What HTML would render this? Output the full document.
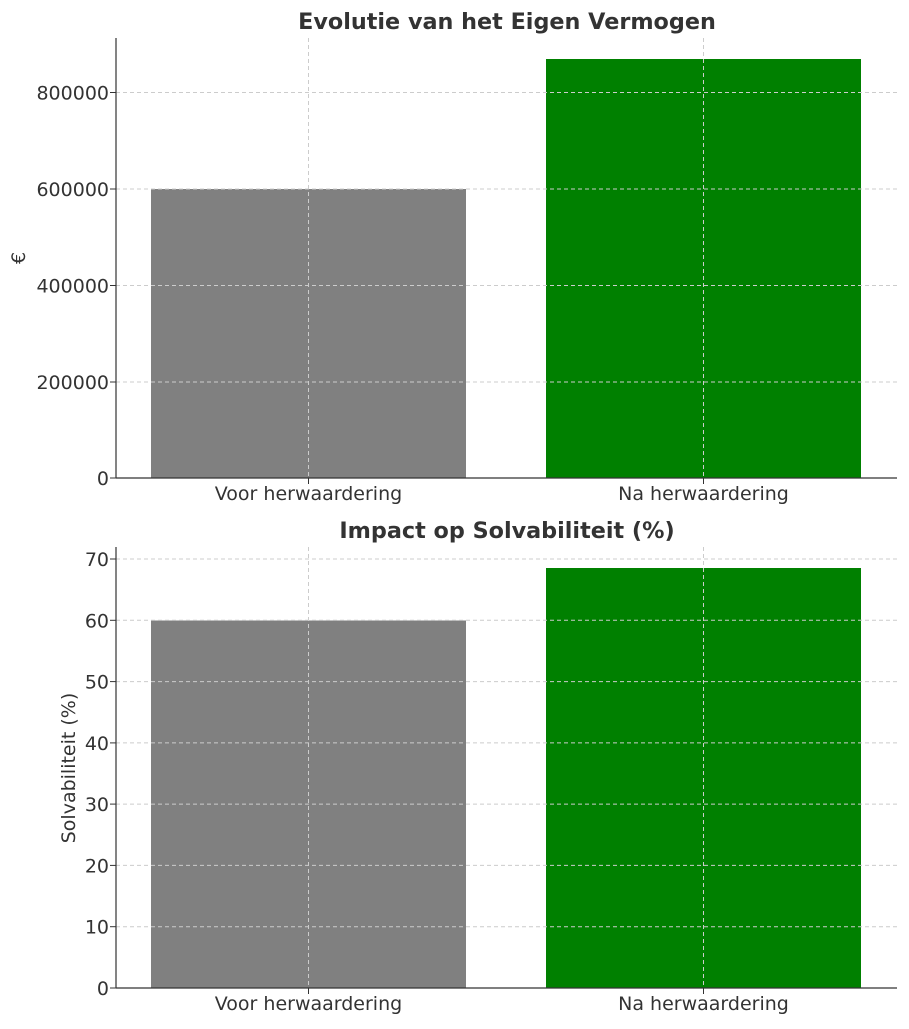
<!DOCTYPE html>
<html><head><meta charset="utf-8"><style>body{margin:0;background:#fff}</style></head><body>
<svg width="909" height="1024" xmlns="http://www.w3.org/2000/svg" font-family="DejaVu Sans, Liberation Sans, sans-serif" fill="#333">
<rect width="909" height="1024" fill="#fff"/>
<g>
<rect x="151" y="189" width="315" height="289" fill="#808080"/>
<rect x="546" y="59" width="315" height="419" fill="#008000"/>
<g stroke="#ccc" stroke-dasharray="4,3" stroke-width="1">
<line x1="116" x2="897" y1="382" y2="382"/><line x1="116" x2="897" y1="285.5" y2="285.5"/>
<line x1="116" x2="897" y1="189" y2="189"/><line x1="116" x2="897" y1="92.5" y2="92.5"/>
<line x1="308.5" x2="308.5" y1="38" y2="478"/><line x1="703.5" x2="703.5" y1="38" y2="478"/>
</g>
<line x1="116" x2="116" y1="38" y2="478" stroke="#333" stroke-width="1.2"/>
<line x1="116" x2="897" y1="478" y2="478" stroke="#333" stroke-width="1.2"/>
<g stroke="#333"><line x1="110" x2="116" y1="478" y2="478"/><line x1="110" x2="116" y1="382" y2="382"/><line x1="110" x2="116" y1="285.5" y2="285.5"/><line x1="110" x2="116" y1="189" y2="189"/><line x1="110" x2="116" y1="92.5" y2="92.5"/><line x1="308.5" x2="308.5" y1="478" y2="484"/><line x1="703.5" x2="703.5" y1="478" y2="484"/></g>
<g font-size="19" text-anchor="end"><text x="109" y="485">0</text><text x="109" y="389">200000</text><text x="109" y="292.5">400000</text><text x="109" y="196">600000</text><text x="109" y="99.5">800000</text></g>
<g font-size="19" text-anchor="middle"><text x="308.5" y="500">Voor herwaardering</text><text x="703.5" y="500">Na herwaardering</text></g>
<text x="25" y="258" font-size="19" text-anchor="middle" transform="rotate(-90 25 258)">€</text>
<text x="507" y="29" font-size="22.3" font-weight="bold" text-anchor="middle">Evolutie van het Eigen Vermogen</text>
</g>
<g>
<rect x="151" y="620.5" width="315" height="367.5" fill="#808080"/>
<rect x="546" y="568" width="315" height="420" fill="#008000"/>
<g stroke="#ccc" stroke-dasharray="4,3" stroke-width="1">
<line x1="116" x2="897" y1="926.7" y2="926.7"/><line x1="116" x2="897" y1="865.4" y2="865.4"/><line x1="116" x2="897" y1="804.1" y2="804.1"/><line x1="116" x2="897" y1="742.9" y2="742.9"/><line x1="116" x2="897" y1="681.6" y2="681.6"/><line x1="116" x2="897" y1="620.3" y2="620.3"/><line x1="116" x2="897" y1="559" y2="559"/>
<line x1="308.5" x2="308.5" y1="547" y2="988"/><line x1="703.5" x2="703.5" y1="547" y2="988"/>
</g>
<line x1="116" x2="116" y1="547" y2="988" stroke="#333" stroke-width="1.2"/>
<line x1="116" x2="897" y1="988" y2="988" stroke="#333" stroke-width="1.2"/>
<g stroke="#333"><line x1="110" x2="116" y1="988" y2="988"/><line x1="110" x2="116" y1="926.7" y2="926.7"/><line x1="110" x2="116" y1="865.4" y2="865.4"/><line x1="110" x2="116" y1="804.1" y2="804.1"/><line x1="110" x2="116" y1="742.9" y2="742.9"/><line x1="110" x2="116" y1="681.6" y2="681.6"/><line x1="110" x2="116" y1="620.3" y2="620.3"/><line x1="110" x2="116" y1="559" y2="559"/><line x1="308.5" x2="308.5" y1="988" y2="994"/><line x1="703.5" x2="703.5" y1="988" y2="994"/></g>
<g font-size="19" text-anchor="end"><text x="109" y="995">0</text><text x="109" y="933.7">10</text><text x="109" y="872.4">20</text><text x="109" y="811.1">30</text><text x="109" y="749.9">40</text><text x="109" y="688.6">50</text><text x="109" y="627.3">60</text><text x="109" y="566">70</text></g>
<g font-size="19" text-anchor="middle"><text x="308.5" y="1010">Voor herwaardering</text><text x="703.5" y="1010">Na herwaardering</text></g>
<text x="75" y="768" font-size="19" text-anchor="middle" transform="rotate(-90 75 768)">Solvabiliteit (%)</text>
<text x="507" y="538" font-size="22.3" font-weight="bold" text-anchor="middle">Impact op Solvabiliteit (%)</text>
</g>
</svg>
</body></html>
